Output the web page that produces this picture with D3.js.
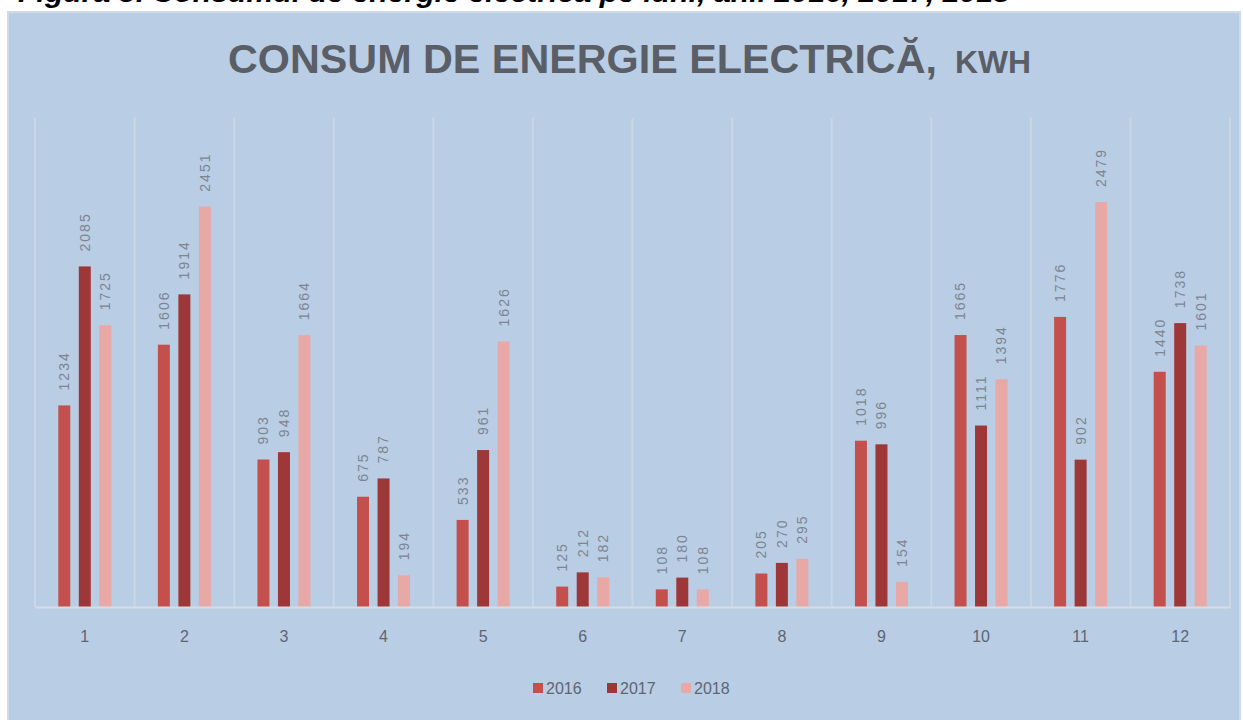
<!DOCTYPE html>
<html>
<head>
<meta charset="utf-8">
<script src="https://cdn.jsdelivr.net/npm/d3@7"></script>
<style>
  body { margin: 0; background: #fff; }
  svg { display: block; }
</style>
</head>
<body>
<svg width="1243" height="720"></svg>
<script>
// data
var months = ["1", "2", "3", "4", "5", "6", "7", "8", "9", "10", "11", "12"];
var years = ["2016", "2017", "2018"];
var v2016 = [1234, 1606, 903, 675, 533, 125, 108, 205, 1018, 1665, 1776, 1440];
var v2017 = [2085, 1914, 948, 787, 961, 212, 180, 270, 996, 1111, 902, 1738];
var v2018 = [1725, 2451, 1664, 194, 1626, 182, 108, 295, 154, 1394, 2479, 1601];
var colors = ["#c4504e", "#9e3737", "#e7a8a6"];

var series = [v2016, v2017, v2018];

var svg = d3.select("svg");

// caption of the document, cut off at the top
svg.append("text")
  .attr("x", 18)
  .attr("y", 2)
  .attr("textLength", 992)
  .attr("lengthAdjust", "spacingAndGlyphs")
  .style("font-family", "Liberation Sans, Arial, sans-serif")
  .style("font-size", "27px")
  .style("font-weight", "bold")
  .style("font-style", "italic")
  .attr("fill", "#000")
  .text("Figura 3. Consumul de energie electrică pe luni, anii 2016, 2017, 2018");

// chart panel
svg.append("rect")
  .attr("x", 8)
  .attr("y", 12)
  .attr("width", 1232)
  .attr("height", 712)
  .attr("fill", "#b9cde5")
  .attr("stroke", "#cfdbe9")
  .attr("stroke-width", 2);

// title
svg.append("text")
  .attr("x", 228)
  .attr("y", 73)
  .attr("textLength", 709)
  .attr("lengthAdjust", "spacingAndGlyphs")
  .style("font-family", "Liberation Sans, Arial, sans-serif")
  .style("font-size", "41px")
  .style("font-weight", "bold")
  .attr("fill", "#5a5e66")
  .text("CONSUM DE ENERGIE ELECTRICĂ,");

svg.append("text")
  .attr("x", 955)
  .attr("y", 73)
  .attr("textLength", 76)
  .attr("lengthAdjust", "spacingAndGlyphs")
  .style("font-family", "Liberation Sans, Arial, sans-serif")
  .style("font-size", "32px")
  .style("font-weight", "bold")
  .attr("fill", "#5a5e66")
  .text("KWH");

var plotLeft = 35, plotRight = 1230, plotTop = 117, plotBottom = 607;

var x0 = d3.scaleBand()
  .domain(months)
  .range([plotLeft, plotRight]);

var x1 = d3.scaleBand()
  .domain(years)
  .range([(x0.bandwidth() - 53) / 2, (x0.bandwidth() + 53) / 2])
  .paddingInner(0.415);

var y = d3.scaleLinear()
  .domain([0, 3000])
  .range([plotBottom, plotTop]);

// vertical gridlines between months
svg.append("g")
  .selectAll("line")
  .data(months.concat(["end"]))
  .enter().append("line")
  .attr("x1", function (d, i) { return plotLeft + i * x0.step(); })
  .attr("x2", function (d, i) { return plotLeft + i * x0.step(); })
  .attr("y1", plotTop + 1)
  .attr("y2", plotBottom)
  .attr("stroke", "#c9d7e7")
  .attr("stroke-width", 2);

// bars
var groups = svg.append("g")
  .selectAll("g")
  .data(months)
  .enter().append("g")
  .attr("transform", function (d) { return "translate(" + x0(d) + ",0)"; });

groups.selectAll("rect")
  .data(function (d, i) {
    return years.map(function (yr, j) { return { year: yr, value: series[j][i], k: j }; });
  })
  .enter().append("rect")
  .attr("x", function (d) { return x1(d.year); })
  .attr("y", function (d) { return y(d.value); })
  .attr("width", x1.bandwidth())
  .attr("height", function (d) { return plotBottom - y(d.value); })
  .attr("fill", function (d) { return colors[d.k]; });

// value labels, rotated
groups.selectAll("text")
  .data(function (d, i) {
    return years.map(function (yr, j) { return { year: yr, value: series[j][i] }; });
  })
  .enter().append("text")
  .attr("transform", function (d) {
    return "translate(" + (x1(d.year) + x1.bandwidth() / 2) + "," + (y(d.value) - 15) + ") rotate(-90)";
  })
  .attr("dy", "0.35em")
  .style("font-family", "Liberation Sans, Arial, sans-serif")
  .style("font-size", "14px")
  .style("letter-spacing", "2px")
  .attr("fill", "#7d8591")
  .text(function (d) { return d.value; });

// baseline and month labels
var xAxis = svg.append("g")
  .attr("transform", "translate(0," + plotBottom + ")")
  .call(d3.axisBottom(x0).tickSize(0).tickPadding(24));

xAxis.select(".domain")
  .attr("stroke", "#d9dde3")
  .attr("stroke-width", 2);

xAxis.selectAll("text")
  .style("font-family", "Liberation Sans, Arial, sans-serif")
  .style("font-size", "16px")
  .attr("fill", "#5d6671");

// legend
var legendX = [533, 607, 681];
var legend = svg.append("g")
  .selectAll("g")
  .data(years)
  .enter().append("g")
  .attr("transform", function (d, i) { return "translate(" + legendX[i] + ",688)"; });

legend.append("rect")
  .attr("x", 0)
  .attr("y", -5)
  .attr("width", 10)
  .attr("height", 10)
  .attr("fill", function (d, i) { return colors[i]; });

legend.append("text")
  .attr("x", 13)
  .attr("dy", "0.35em")
  .style("font-family", "Liberation Sans, Arial, sans-serif")
  .style("font-size", "16px")
  .attr("fill", "#5d6671")
  .text(function (d) { return d; });
</script>
</body>
</html>
